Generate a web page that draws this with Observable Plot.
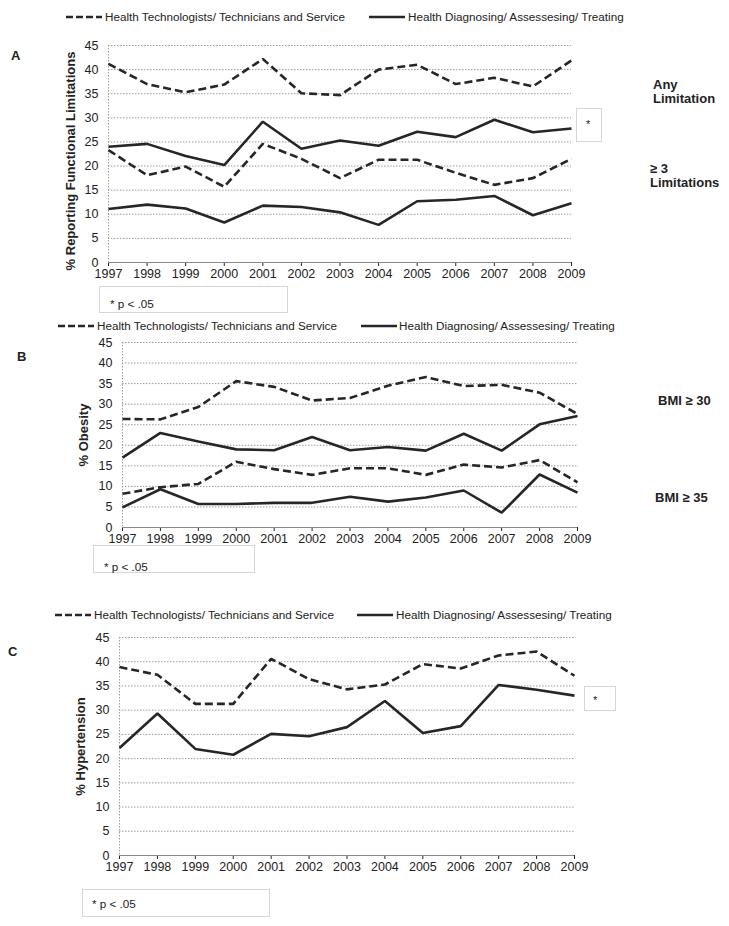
<!DOCTYPE html>
<html><head><meta charset="utf-8">
<script src="https://cdn.jsdelivr.net/npm/d3@7"></script>
<script src="https://cdn.jsdelivr.net/npm/@observablehq/plot@0.6"></script>
<style>
body{margin:0;background:#fff;font-family:"Liberation Sans",Arial,sans-serif;color:#222}
#page{position:relative;width:729px;height:926px;overflow:hidden;background:#fff}
.abs{position:absolute;white-space:nowrap}
.leg{font-size:11.7px;line-height:12px}
.letter{font-weight:bold;font-size:13px;line-height:13px}
.side{font-weight:bold;font-size:13px;line-height:13px}
.box{border:1px solid #d6d6d6;box-sizing:border-box}
.ptxt{font-size:11.7px;line-height:12px}
.star{font-size:11px;line-height:11px}
</style></head>
<body><div id="page"></div>
<script>
// ---- data ----
const years = [1997,1998,1999,2000,2001,2002,2003,2004,2005,2006,2007,2008,2009];
const yTicks = [0,5,10,15,20,25,30,35,40,45];
const seriesNames = ["Health Technologists/ Technicians and Service", "Health Diagnosing/ Assessesing/ Treating"];

const anyLimTech = [41.2,37.0,35.3,36.9,42.2,35.1,34.7,40.0,41.0,37.0,38.3,36.5,41.9];
const anyLimDiag = [24.0,24.6,22.1,20.2,29.2,23.6,25.3,24.2,27.1,26.0,29.6,27.0,27.8];
const lim3Tech   = [23.3,18.1,19.9,15.7,24.6,21.5,17.5,21.3,21.3,18.6,16.1,17.5,21.5];
const lim3Diag   = [11.1,12.0,11.2,8.3,11.8,11.5,10.4,7.8,12.7,13.0,13.8,9.8,12.3];

const bmi30Tech  = [26.4,26.3,29.3,35.6,34.2,30.9,31.5,34.5,36.6,34.4,34.7,32.8,27.6];
const bmi30Diag  = [17.0,23.0,20.9,19.0,18.8,22.0,18.8,19.6,18.7,22.8,18.7,25.1,27.1];
const bmi35Tech  = [8.2,9.8,10.6,16.0,14.2,12.8,14.4,14.4,12.8,15.3,14.6,16.4,11.0];
const bmi35Diag  = [4.9,9.3,5.7,5.7,6.0,6.0,7.5,6.3,7.3,9.0,3.6,12.9,8.5];

const htnTech    = [38.9,37.3,31.3,31.3,40.6,36.4,34.3,35.3,39.5,38.6,41.3,42.1,37.1];
const htnDiag    = [22.2,29.3,22.0,20.8,25.1,24.6,26.5,31.9,25.3,26.7,35.2,34.2,33.0];

const yLabels = ["% Reporting Functional Limitations", "% Obesity", "% Hypertension"];
const panelLetters = ["A", "B", "C"];
const sideLabels = [["Any", "Limitation"], ["≥ 3", "Limitations"], ["BMI ≥ 30"], ["BMI ≥ 35"]];
const sigNote = "* p < .05";

// ---- helpers ----
const page = document.getElementById("page");
function el(tag, cls, style, html) {
  const e = document.createElement(tag);
  if (cls) e.className = cls;
  Object.assign(e.style, style);
  if (html != null) e.textContent = html;
  page.appendChild(e);
  return e;
}
const rows = vals => years.map((year, i) => ({year, value: vals[i]}));

function panel(cfg) {
  const marks = [
    Plot.ruleY(yTicks.filter(d => d > 0), {stroke: "#9c9c9c", strokeWidth: 1, strokeDasharray: "1.5,1.5"}),
    Plot.ruleX([years[0]], {stroke: "#9c9c9c", strokeWidth: 1, strokeDasharray: "1.5,1.5"}),
    Plot.ruleY([0], {stroke: "#8a8a8a", strokeWidth: 1})
  ];
  for (const s of cfg.series) {
    marks.push(Plot.line(rows(s.values), {
      x: "year", y: "value", stroke: "#262626", strokeWidth: 2.6,
      strokeLinecap: "butt", strokeLinejoin: "miter",
      ...(s.dashed ? {strokeDasharray: "8,4"} : {})
    }));
  }
  marks.push(Plot.text([cfg.ylabel], {
    text: d => d, frameAnchor: "left", textAnchor: "middle", rotate: -90, dx: cfg.ldx, dy: cfg.ldy,
    fontWeight: "bold", fontSize: 13, fill: "#222"
  }));
  const svg = Plot.plot({
    width: 729, height: cfg.height,
    marginLeft: cfg.ml, marginRight: 729 - cfg.xr, marginTop: cfg.mt, marginBottom: cfg.mb,
    style: {fontFamily: '"Liberation Sans", Arial, sans-serif', fontSize: "12.5px", color: "#222", background: "transparent", overflow: "visible"},
    x: {domain: [years[0], years[years.length - 1]], ticks: years, tickFormat: d => String(d), tickSize: 4, tickPadding: 3, label: null},
    y: {domain: [0, 45], ticks: yTicks, tickSize: 0, tickPadding: 10, label: null},
    marks
  });
  svg.style.position = "absolute";
  svg.style.left = "0px";
  svg.style.top = cfg.top + "px";
  page.appendChild(svg);
}

function legend(cy, dashX, dashText, solidX, solidText) {
  const mk = (x, dashed) => {
    const s = document.createElementNS("http://www.w3.org/2000/svg", "svg");
    s.setAttribute("width", 36); s.setAttribute("height", 6);
    s.style.position = "absolute"; s.style.left = x + "px"; s.style.top = (cy - 3) + "px";
    s.innerHTML = `<line x1="0" y1="3" x2="36" y2="3" stroke="#262626" stroke-width="2.6" ${dashed ? 'stroke-dasharray="7,3"' : ''}/>`;
    page.appendChild(s);
  };
  mk(dashX, true);
  el("div", "abs leg", {left: dashText + "px", top: (cy - 6) + "px"}, seriesNames[0]);
  mk(solidX, false);
  el("div", "abs leg", {left: solidText + "px", top: (cy - 6) + "px"}, seriesNames[1]);
}

function pbox(left, top, w, h, tx, ty) {
  el("div", "abs box", {left: left + "px", top: top + "px", width: w + "px", height: h + "px"});
  el("div", "abs ptxt", {left: tx + "px", top: ty + "px"}, sigNote);
}
function starBox(left, top, w, h, cx, cy) {
  el("div", "abs box", {left: left + "px", top: top + "px", width: w + "px", height: h + "px"});
  el("div", "abs star", {left: (cx - 3) + "px", top: (cy - 3) + "px"}, "*");
}
function side(lines, left, top, step) {
  lines.forEach((t, i) => el("div", "abs side", {left: left + "px", top: (top + i * step) + "px"}, t));
}

// ---- Panel A ----
panel({top: 30, height: 258, ml: 108, xr: 571, mt: 15, mb: 26, ldx: -38, ldy: 7, ylabel: yLabels[0],
  series: [{values: anyLimTech, dashed: true}, {values: anyLimDiag}, {values: lim3Tech, dashed: true}, {values: lim3Diag}]});
legend(17, 66, 105, 369, 408);
el("div", "abs letter", {left: "11px", top: "49px"}, panelLetters[0]);
side(sideLabels[0], 653, 78, 14);
side(sideLabels[1], 650, 162, 14);
starBox(576, 108, 26, 34, 589, 122);
pbox(99, 286, 189, 27, 110, 298);

// ---- Panel B ----
panel({top: 330, height: 223, ml: 122, xr: 577, mt: 12, mb: 26, ldx: -39, ldy: 0, ylabel: yLabels[1],
  series: [{values: bmi30Tech, dashed: true}, {values: bmi30Diag}, {values: bmi35Tech, dashed: true}, {values: bmi35Diag}]});
legend(326, 58, 97, 361, 399);
el("div", "abs letter", {left: "17px", top: "350px"}, panelLetters[1]);
side(sideLabels[2], 658, 394, 14);
side(sideLabels[3], 655, 491, 14);
pbox(93, 545, 162, 28, 104, 561);

// ---- Panel C ----
panel({top: 625, height: 256, ml: 119, xr: 574, mt: 12, mb: 26, ldx: -39, ldy: 0, ylabel: yLabels[2],
  series: [{values: htnTech, dashed: true}, {values: htnDiag}]});
legend(615, 55, 94, 357, 396);
el("div", "abs letter", {left: "8px", top: "645px"}, panelLetters[2]);
starBox(584, 686, 32, 25, 596, 698);
pbox(82, 889, 188, 28, 92, 898);
</script>
</body></html>
